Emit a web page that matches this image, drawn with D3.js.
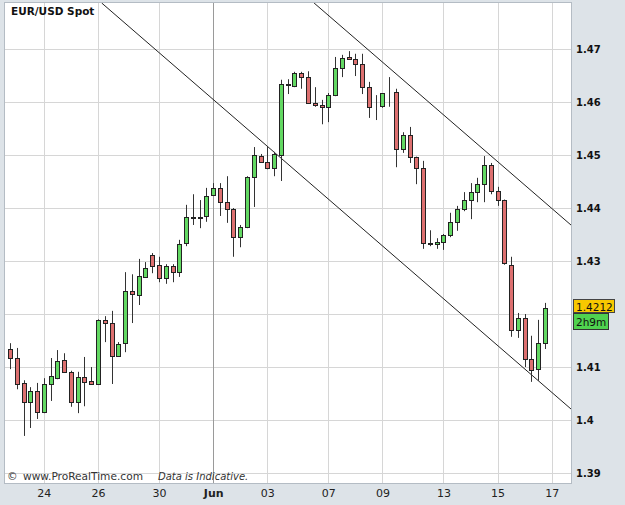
<!DOCTYPE html>
<html>
<head>
<meta charset="utf-8">
<script src="https://cdn.jsdelivr.net/npm/d3@7"></script>
<style>
  html, body { margin: 0; padding: 0; background: #dde3e8; }
  svg { display: block; font-family: "DejaVu Sans", Verdana, sans-serif; }
</style>
</head>
<body>
<svg id="chart" width="625" height="505"></svg>
<script>
// 6-hour EUR/USD candles
const opens = [1.4134, 1.4117, 1.4070, 1.4034, 1.4055, 1.4015, 1.4068, 1.4079, 1.4113, 1.4091,
  1.4034, 1.4081, 1.4074, 1.4068, 1.4189, 1.4183, 1.4121, 1.4145, 1.4243, 1.4236,
  1.4270, 1.4311, 1.4292, 1.4268, 1.4291, 1.4279, 1.4334, 1.4383, 1.4382, 1.4385,
  1.4425, 1.4438, 1.4411, 1.4398, 1.4345, 1.4364, 1.4459, 1.4498, 1.4487, 1.4475,
  1.4500, 1.4634, 1.4630, 1.4655, 1.4647, 1.4598, 1.4594, 1.4591, 1.4613, 1.4664,
  1.4685, 1.4681, 1.4672, 1.4628, 1.4591, 1.4592, 1.4619, 1.4619, 1.4511, 1.4538,
  1.4496, 1.4475, 1.4334, 1.4332, 1.4336, 1.4349, 1.4374, 1.4398, 1.4415, 1.4430,
  1.4445, 1.4481, 1.4432, 1.4415, 1.4292, 1.4170, 1.4192, 1.4115, 1.4096, 1.4145]
const highs = [1.4145, 1.4136, 1.4075, 1.4062, 1.4070, 1.4079, 1.4117, 1.4132, 1.4126, 1.4093,
  1.4091, 1.4119, 1.4100, 1.4190, 1.4196, 1.4206, 1.4147, 1.4279, 1.4275, 1.4304,
  1.4298, 1.4315, 1.4308, 1.4294, 1.4294, 1.4340, 1.4406, 1.4426, 1.4415, 1.4438,
  1.4447, 1.4447, 1.4460, 1.4400, 1.4368, 1.4460, 1.4515, 1.4502, 1.4515, 1.4506,
  1.4642, 1.4643, 1.4657, 1.4657, 1.4658, 1.4628, 1.4604, 1.4617, 1.4685, 1.4689,
  1.4696, 1.4691, 1.4691, 1.4638, 1.4613, 1.4617, 1.4647, 1.4625, 1.4543, 1.4553,
  1.4497, 1.4489, 1.4358, 1.4343, 1.4351, 1.4391, 1.4404, 1.4430, 1.4447, 1.4457,
  1.4498, 1.4485, 1.4440, 1.4416, 1.4308, 1.4202, 1.4200, 1.4159, 1.4189, 1.4221]
const lows = [1.4096, 1.4058, 1.3970, 1.3985, 1.4002, 1.4013, 1.4036, 1.4077, 1.4089, 1.4025,
  1.4013, 1.4026, 1.4067, 1.4066, 1.4147, 1.4068, 1.4119, 1.4128, 1.4183, 1.4217,
  1.4268, 1.4277, 1.4260, 1.4257, 1.4260, 1.4270, 1.4328, 1.4368, 1.4362, 1.4374,
  1.4423, 1.4385, 1.4372, 1.4308, 1.4326, 1.4362, 1.4402, 1.4485, 1.4473, 1.4460,
  1.4451, 1.4615, 1.4628, 1.4625, 1.4597, 1.4591, 1.4558, 1.4562, 1.4611, 1.4647,
  1.4680, 1.4649, 1.4615, 1.4570, 1.4566, 1.4589, 1.4591, 1.4477, 1.4504, 1.4485,
  1.4445, 1.4323, 1.4328, 1.4323, 1.4321, 1.4345, 1.4357, 1.4394, 1.4379, 1.4411,
  1.4411, 1.4426, 1.4404, 1.4293, 1.4157, 1.4155, 1.4100, 1.4072, 1.4074, 1.4134]
const closes = [1.4117, 1.4068, 1.4034, 1.4055, 1.4015, 1.4068, 1.4083, 1.4111, 1.4091, 1.4034,
  1.4081, 1.4072, 1.4068, 1.4189, 1.4183, 1.4121, 1.4143, 1.4243, 1.4238, 1.4272,
  1.4287, 1.4291, 1.4268, 1.4291, 1.4279, 1.4332, 1.4383, 1.4382, 1.4383, 1.4423,
  1.4438, 1.4411, 1.4398, 1.4345, 1.4364, 1.4459, 1.4500, 1.4487, 1.4475, 1.4502,
  1.4634, 1.4633, 1.4655, 1.4647, 1.4598, 1.4594, 1.4591, 1.4613, 1.4664, 1.4683,
  1.4681, 1.4672, 1.4628, 1.4591, 1.4590, 1.4617, 1.4618, 1.4511, 1.4538, 1.4496,
  1.4475, 1.4334, 1.4333, 1.4336, 1.4349, 1.4374, 1.4398, 1.4415, 1.4430, 1.4445,
  1.4481, 1.4432, 1.4415, 1.4296, 1.4170, 1.4192, 1.4115, 1.4094, 1.4145, 1.4212]

// date ticks: candle index -> label
const dateTickIdx = [5, 13, 22, 30, 38, 47, 55, 64, 72, 80]
const dateTickLabels = ['24', '26', '30', 'Jun', '03', '07', '09', '13', '15', '17']
const monthLabel = 'Jun'

const priceGrid = [1.39, 1.40, 1.41, 1.42, 1.43, 1.44, 1.45, 1.46, 1.47]
const priceLabels = [1.39, 1.40, 1.41, 1.43, 1.44, 1.45, 1.46, 1.47]

// channel lines, [candle index, price]
const channelLow = [[13.54, 1.47868], [82.84, 1.40208]]
const channelHigh = [[44.9, 1.47868], [82.84, 1.43679]]

const lastPrice = '1.4212'
const countdown = '2h9m'
const title = 'EUR/USD Spot'

const candles = opens.map((o, i) => ({i: i, o: o, h: highs[i], l: lows[i], c: closes[i]}))

const plot = {left: 5, right: 571, top: 3, bottom: 483}
const svg = d3.select('#chart')

const x = d3.scaleLinear().domain([-0.738, 82.84]).range([plot.left, plot.right])
const y = d3.scaleLinear().domain([1.38812, 1.47868]).range([plot.bottom, plot.top])
const px = v => Math.round(v) + 0.5

svg.append('defs').append('clipPath').attr('id', 'plot-clip')
  .append('rect')
  .attr('x', plot.left).attr('y', plot.top)
  .attr('width', plot.right - plot.left).attr('height', plot.bottom - plot.top)

svg.append('rect')
  .attr('x', plot.left).attr('y', plot.top)
  .attr('width', plot.right - plot.left).attr('height', plot.bottom - plot.top)
  .attr('fill', '#fff')

// grid
const grid = svg.append('g')
grid.selectAll('line.h').data(priceGrid).join('line')
  .attr('class', 'h')
  .attr('x1', plot.left).attr('x2', plot.right)
  .attr('y1', d => px(y(d))).attr('y2', d => px(y(d)))
  .attr('stroke', '#d6d6d6')
grid.selectAll('line.v').data(dateTickIdx).join('line')
  .attr('class', 'v')
  .attr('y1', plot.top).attr('y2', plot.bottom)
  .attr('x1', d => px(x(d))).attr('x2', d => px(x(d)))
  .attr('stroke', (d, i) => dateTickLabels[i] === monthLabel ? '#9a9a9a' : '#d6d6d6')

// watermark
const wm = svg.append('g').attr('fill', '#333').style('font-size', '10.6px')
wm.append('text').attr('x', 7).attr('y', 480).text('©')
wm.append('text').attr('x', 23).attr('y', 480).text('www.ProRealTime.com')
wm.append('text').attr('x', 158).attr('y', 480).style('font-style', 'italic')
  .style('font-size', '10px').text('Data is Indicative.')

// channel lines
const line = d3.line().x(d => x(d[0])).y(d => y(d[1]))
svg.append('g').attr('clip-path', 'url(#plot-clip)')
  .selectAll('path').data([channelLow, channelHigh]).join('path')
  .attr('d', line)
  .attr('fill', 'none')
  .attr('stroke', '#222')
  .attr('stroke-width', 1)

// candles
const cg = svg.append('g').attr('clip-path', 'url(#plot-clip)')
const candle = cg.selectAll('g').data(candles).join('g')
candle.append('line')
  .attr('x1', d => px(x(d.i))).attr('x2', d => px(x(d.i)))
  .attr('y1', d => y(d.h)).attr('y2', d => y(d.l))
  .attr('stroke', '#333')
candle.append('rect')
  .attr('x', d => Math.round(x(d.i)) - 2 + 0.5)
  .attr('width', 4)
  .attr('y', d => Math.round(y(Math.max(d.o, d.c))) + 0.5)
  .attr('height', d => Math.max(0, Math.round(y(Math.min(d.o, d.c))) - Math.round(y(Math.max(d.o, d.c)))))
  .attr('fill', d => d.c >= d.o ? '#62d862' : '#dd7070')
  .attr('stroke', '#222')

// plot frame
svg.append('rect')
  .attr('x', plot.left - 0.5).attr('y', plot.top - 0.5)
  .attr('width', plot.right - plot.left + 1).attr('height', plot.bottom - plot.top + 1)
  .attr('fill', 'none').attr('stroke', '#b4bcc4')

// title
svg.append('text')
  .attr('x', 11).attr('y', 15)
  .style('font-size', '10.5px').style('font-weight', 'bold')
  .attr('fill', '#111')
  .text(title)

// price axis
const yAxis = svg.append('g')
  .attr('transform', `translate(${plot.right + 1}, 0)`)
  .call(d3.axisRight(y).tickValues(priceLabels).tickSize(0).tickPadding(4)
    .tickFormat(d => String(+d.toFixed(2))))
yAxis.select('.domain').remove()
yAxis.selectAll('text')
  .style('font-family', '"DejaVu Sans", Verdana, sans-serif')
  .style('font-size', '10px').style('font-weight', 'bold').attr('fill', '#111')

// date axis
const xAxis = svg.append('g')
  .attr('transform', `translate(0, ${plot.bottom})`)
  .call(d3.axisBottom(x).tickValues(dateTickIdx).tickSize(0).tickPadding(6)
    .tickFormat((d, i) => dateTickLabels[i]))
xAxis.select('.domain').remove()
xAxis.selectAll('text')
  .style('font-family', '"DejaVu Sans", Verdana, sans-serif')
  .style('font-size', '11px')
  .style('font-weight', (d, i) => dateTickLabels[i] === monthLabel ? 'bold' : 'normal')
  .attr('fill', '#222')

// last price + countdown tags
const tagY = Math.round(y(+lastPrice))
const tags = svg.append('g').style('font-size', '10.5px')
tags.append('rect')
  .attr('x', 573.5).attr('y', tagY - 8.5).attr('width', 41).attr('height', 13)
  .attr('fill', '#f8c800').attr('stroke', '#444')
tags.append('text')
  .attr('x', 576).attr('y', tagY + 2.5).attr('fill', '#111').text(lastPrice)
tags.append('rect')
  .attr('x', 573.5).attr('y', tagY + 5.5).attr('width', 35).attr('height', 16)
  .attr('fill', '#4fd24f').attr('stroke', '#333')
tags.append('text')
  .attr('x', 576).attr('y', tagY + 17.5).attr('fill', '#111').text(countdown)
</script>
</body>
</html>
